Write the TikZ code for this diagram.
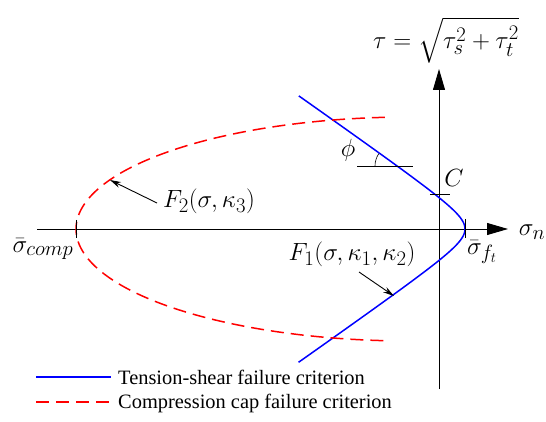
\documentclass[tikz,border=0pt]{standalone}
\usepackage{fontspec}
\setmainfont{Liberation Serif}
\usepackage{amsmath}
\usetikzlibrary{arrows.meta}
\begin{document}
\begin{tikzpicture}[x=1pt,y=-1pt,
  axis/.style={line width=0.9pt,-{Triangle[length=21pt,width=12pt]}},
  tickline/.style={line width=0.9pt},
  tens/.style={blue,line width=1.5pt},
  capline/.style={red,line width=1.5pt,dash pattern=on 13pt off 7pt},
  lbl/.style={font=\fontsize{30}{34}\selectfont,inner sep=0pt},
  ptr/.style={line width=0.9pt,-{Stealth[length=11pt,width=6pt]}},
  leg/.style={font=\fontsize{20.4}{24}\selectfont,anchor=west,inner sep=0pt}]
\useasboundingbox (0,0) rectangle (546,422);
% axes
\coordinate (xs) at (37,229);
\coordinate (xe) at (508,229);
\coordinate (ys) at (439,389);
\coordinate (ye) at (439,69);
\draw[axis] (xs) -- (xe);
\draw[axis] (ys) -- (ye);
% tension-shear curve (hyperbola)
\draw[tens] plot[domain=-2.7:2.7,samples=120,smooth]
  ({439+(36.2-18*cosh(\x))/0.7},{229-18*sinh(\x)});
% compression cap
\draw[capline] plot[domain=94.3:265.7,samples=120,smooth]
  ({410+334*cos(\x)},{229-112*sin(\x)});
% ticks
\coordinate (c1) at (430,194); \coordinate (c2) at (450,194);
\draw[tickline] (c1) -- (c2);
\coordinate (f1) at (465,219); \coordinate (f2) at (465,238);
\draw[tickline] (f1) -- (f2);
\coordinate (k1) at (76,220); \coordinate (k2) at (76,238);
\draw[tickline] (k1) -- (k2);
% phi
\coordinate (p1) at (357,166); \coordinate (p2) at (413,166);
\draw[line width=0.6pt] (p1) -- (p2);
\coordinate (pa) at (375,166);
\draw[line width=0.6pt] (pa) arc[start angle=180,end angle=214.5,radius=22];
\node[lbl] (phi) at (348,150) {$\phi$};
\node[lbl] (C) at (454,178) {$C$};
\node[lbl] (tau) at (446,40) {$\tau=\sqrt{\tau_s^2+\tau_t^2}$};
\node[lbl] (sn) at (532,232) {$\sigma_n$};
\node[lbl] (sc) at (43,249) {$\bar{\sigma}_{comp}$};
\node[lbl] (sf) at (482,252) {$\bar{\sigma}_{f_t}$};
\node[lbl] (F2) at (209,201) {$F_2(\sigma,\kappa_3)$};
\node[lbl] (F1) at (352,254) {$F_1(\sigma,\kappa_1,\kappa_2)$};
% pointers
\coordinate (a2s) at (157,203); \coordinate (a2e) at (110,180);
\draw[ptr] (a2s) -- (a2e);
\coordinate (a1s) at (359,272); \coordinate (a1e) at (394,296);
\draw[ptr] (a1s) -- (a1e);
% legend
\coordinate (l1a) at (36,377); \coordinate (l1b) at (111,377);
\draw[tens] (l1a) -- (l1b);
\node[leg] (t1) at (118,377) {Tension-shear failure criterion};
\coordinate (l2a) at (36,402); \coordinate (l2b) at (111,402);
\draw[capline] (l2a) -- (l2b);
\node[leg] (t2) at (118,403) {Compression cap failure criterion};
\end{tikzpicture}
\end{document}
